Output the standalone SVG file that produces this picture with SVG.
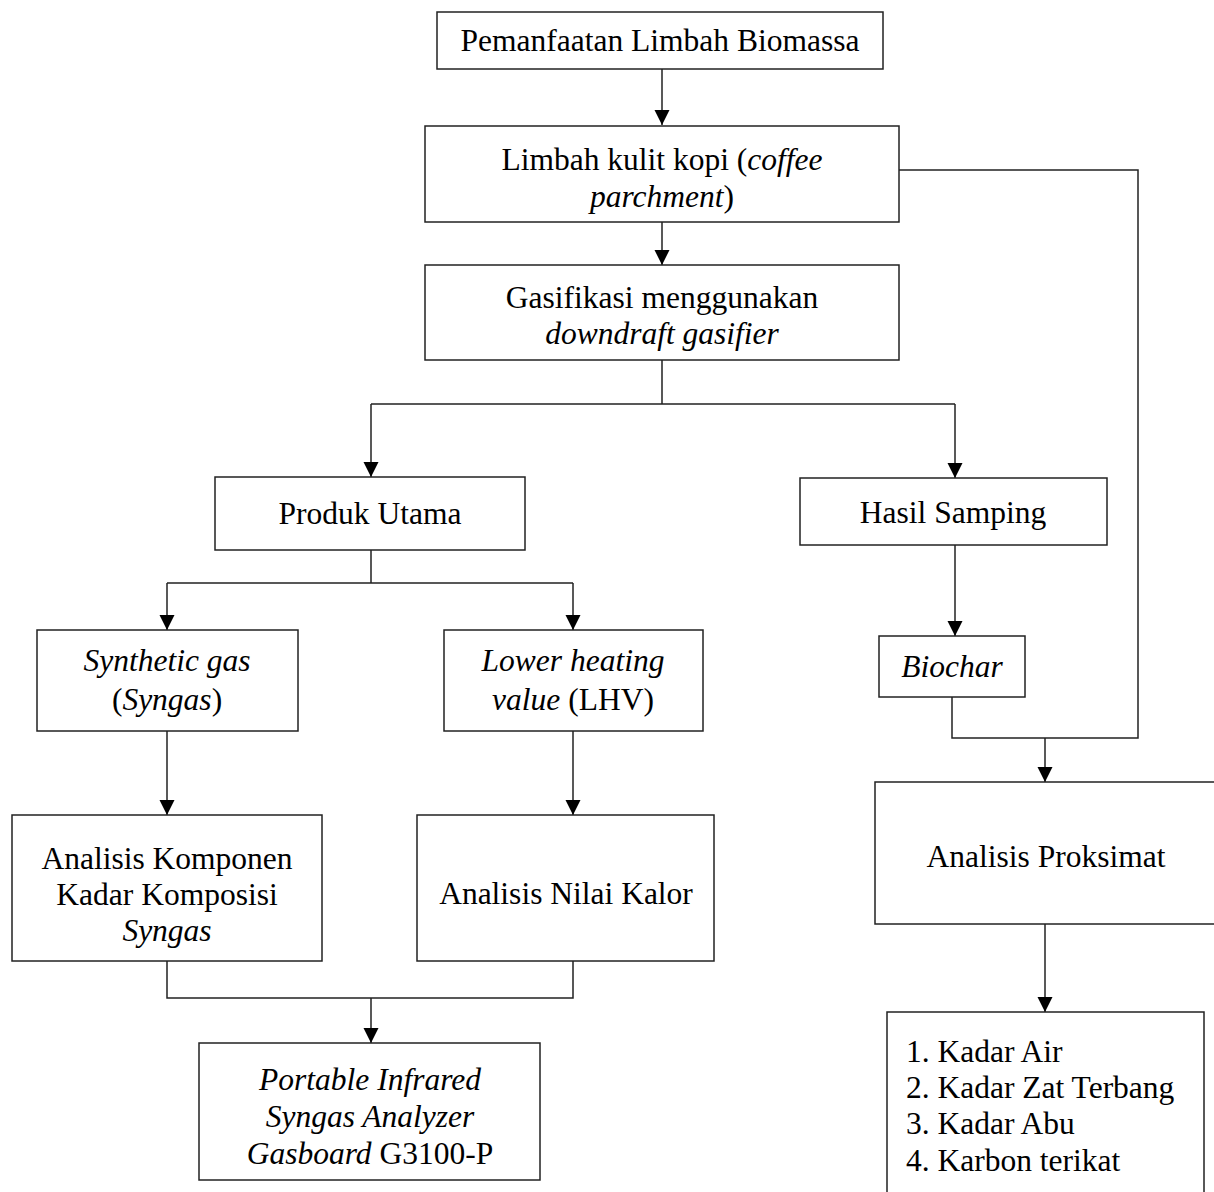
<svg xmlns="http://www.w3.org/2000/svg" width="1214" height="1192" viewBox="0 0 1214 1192">
<style>
.box{fill:#fff;stroke:#222;stroke-width:1.5}
.t{font-family:"Liberation Serif","Times New Roman",serif;font-size:31.5px;fill:#000;text-anchor:middle}
.l{text-anchor:start}
.i{font-style:italic}
.c{fill:none;stroke:#222;stroke-width:1.5}
</style>
<defs>
<marker id="ah" markerUnits="userSpaceOnUse" markerWidth="18" markerHeight="18" refX="15" refY="7.5" orient="auto">
<path d="M0,0 L15,7.5 L0,15 z" fill="#000"/>
</marker>
</defs>
<rect width="1214" height="1192" fill="#fff"/>
<g id="connectors">
<path class="c" d="M662,69 V125" marker-end="url(#ah)"/>
<path class="c" d="M662,222 V265" marker-end="url(#ah)"/>
<path class="c" d="M662,360 V404 M371,404 H955"/>
<path class="c" d="M371,404 V477" marker-end="url(#ah)"/>
<path class="c" d="M955,404 V478" marker-end="url(#ah)"/>
<path class="c" d="M371,550 V583 M167,583 H573"/>
<path class="c" d="M167,583 V630" marker-end="url(#ah)"/>
<path class="c" d="M573,583 V630" marker-end="url(#ah)"/>
<path class="c" d="M167,731 V815" marker-end="url(#ah)"/>
<path class="c" d="M573,731 V815" marker-end="url(#ah)"/>
<path class="c" d="M167,961 V998 H573 V961"/>
<path class="c" d="M371,998 V1043" marker-end="url(#ah)"/>
<path class="c" d="M955,545 V636" marker-end="url(#ah)"/>
<path class="c" d="M899,170 H1138 V738 H952 V697"/>
<path class="c" d="M1045,738 V782" marker-end="url(#ah)"/>
<path class="c" d="M1045,924 V1012" marker-end="url(#ah)"/>
</g>
<g id="n1">
<rect class="box" x="437" y="12" width="446" height="57"/>
<text class="t" x="660" y="51">Pemanfaatan Limbah Biomassa</text>
</g>
<g id="n2">
<rect class="box" x="425" y="126" width="474" height="96"/>
<text class="t" x="662" y="170">Limbah kulit kopi (<tspan class="i">coffee</tspan></text>
<text class="t" x="662" y="207"><tspan class="i">parchment</tspan>)</text>
</g>
<g id="n3">
<rect class="box" x="425" y="265" width="474" height="95"/>
<text class="t" x="662" y="308">Gasifikasi menggunakan</text>
<text class="t i" x="662" y="344">downdraft gasifier</text>
</g>
<g id="n4">
<rect class="box" x="215" y="477" width="310" height="73"/>
<text class="t" x="370" y="524">Produk Utama</text>
</g>
<g id="n5">
<rect class="box" x="800" y="478" width="307" height="67"/>
<text class="t" x="953" y="523">Hasil Samping</text>
</g>
<g id="n6">
<rect class="box" x="37" y="630" width="261" height="101"/>
<text class="t i" x="167" y="671">Synthetic gas</text>
<text class="t" x="167" y="710">(<tspan class="i">Syngas</tspan>)</text>
</g>
<g id="n7">
<rect class="box" x="444" y="630" width="259" height="101"/>
<text class="t i" x="573" y="671">Lower heating</text>
<text class="t" x="573" y="710"><tspan class="i">value</tspan> (LHV)</text>
</g>
<g id="n8">
<rect class="box" x="12" y="815" width="310" height="146"/>
<text class="t" x="167" y="869">Analisis Komponen</text>
<text class="t" x="167" y="905">Kadar Komposisi</text>
<text class="t i" x="167" y="941">Syngas</text>
</g>
<g id="n9">
<rect class="box" x="417" y="815" width="297" height="146"/>
<text class="t" x="566" y="904">Analisis Nilai Kalor</text>
</g>
<g id="n10">
<rect class="box" x="199" y="1043" width="341" height="137"/>
<text class="t i" x="370" y="1090">Portable Infrared</text>
<text class="t i" x="370" y="1127">Syngas Analyzer</text>
<text class="t" x="370" y="1164"><tspan class="i">Gasboard</tspan> G3100-P</text>
</g>
<g id="n11">
<rect class="box" x="879" y="636" width="146" height="61"/>
<text class="t i" x="952" y="677">Biochar</text>
</g>
<g id="n12">
<rect class="box" x="875" y="782" width="360" height="142"/>
<text class="t" x="1046" y="867">Analisis Proksimat</text>
</g>
<g id="n13">
<rect class="box" x="887" y="1012" width="317" height="200"/>
<text class="t l" x="906" y="1062">1. Kadar Air</text>
<text class="t l" x="906" y="1098">2. Kadar Zat Terbang</text>
<text class="t l" x="906" y="1134">3. Kadar Abu</text>
<text class="t l" x="906" y="1171">4. Karbon terikat</text>
</g>
</svg>
